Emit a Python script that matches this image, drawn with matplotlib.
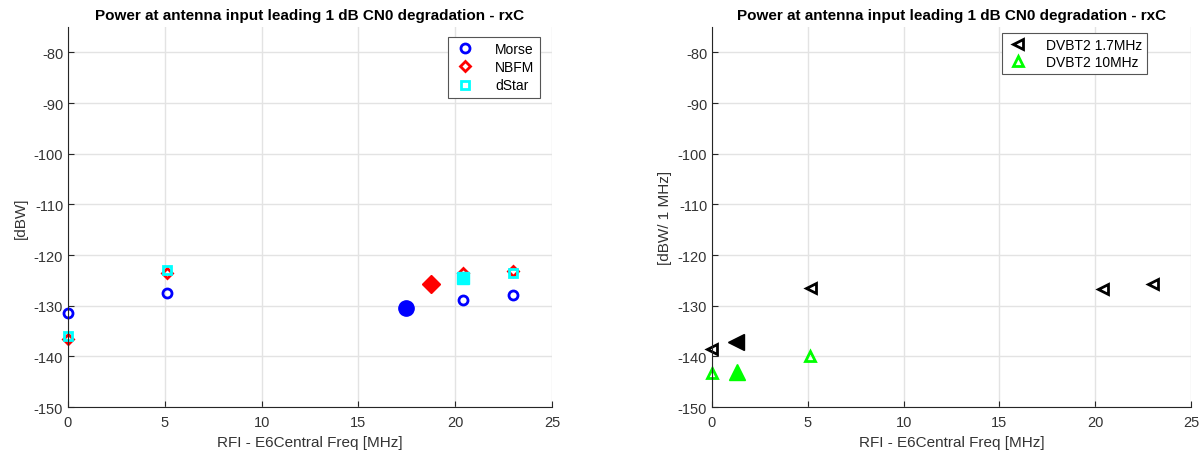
import matplotlib
matplotlib.use("Agg")
import matplotlib.pyplot as plt

plt.rcParams['font.family'] = ['Liberation Sans', 'DejaVu Sans']
plt.rcParams['axes.unicode_minus'] = False

# ---- data (left panel) ----
freq_narrow = [0.0, 5.1, 20.4, 23.0]
morse_dbw = [-131.5, -127.5, -128.9, -127.9]
nbfm_dbw = [-136.5, -123.6, -123.6, -123.2]
dstar_dbw = [-136.0, -123.0, -124.4, -123.6]
center_freq_left = [17.45, 18.75, 20.4]
center_dbw_left = [-130.5, -125.8, -124.5]

# ---- data (right panel) ----
freq_dvbt17 = [0.0, 5.15, 20.4, 23.0]
dvbt17_dbw = [-138.5, -126.5, -126.7, -125.7]
freq_dvbt10 = [0.0, 5.1]
dvbt10_dbw = [-143.3, -139.9]
center_freq_right = [1.25, 1.3]
center_dbw_right = [-137.2, -143.0]

title = "Power at antenna input leading 1 dB CN0 degradation - rxC"
xlabel = "RFI - E6Central Freq [MHz]"
xticks = [0, 5, 10, 15, 20, 25]
yticks = [-150, -140, -130, -120, -110, -100, -90, -80]

AXC = '#262626'
GRID = '#e3e3e3'

fig = plt.figure(figsize=(12.04, 4.6), dpi=100)
axL = fig.add_axes([68/1204, 52/460, 484/1204, 380/460])
axR = fig.add_axes([712/1204, 52/460, 479/1204, 380/460])


def style(ax, ylabel):
    ax.set_xlim(0, 25)
    ax.set_ylim(-150, -75)
    ax.set_xticks(xticks)
    ax.set_yticks(yticks)
    ax.grid(True, color=GRID, linewidth=1.0)
    ax.set_axisbelow(True)
    for s in ['top', 'right']:
        ax.spines[s].set_visible(False)
    for s in ['left', 'bottom']:
        ax.spines[s].set_color(AXC)
        ax.spines[s].set_linewidth(0.8)
    ax.tick_params(direction='in', length=4, width=0.8, colors=AXC,
                   labelsize=10.5, labelcolor='#333333')
    ax.tick_params(axis='x', pad=6)
    ax.set_xlabel(xlabel, fontsize=11, color='#333333', labelpad=4)
    ax.set_ylabel(ylabel, fontsize=11, color='#333333', labelpad=4)
    ax.set_title(title, fontsize=11, fontweight='bold', pad=6)


style(axL, "[dBW]")
style(axR, "[dBW/ 1 MHz]")

open_kw = dict(linestyle='none', markerfacecolor='none', markersize=6.5,
               markeredgewidth=2.0, clip_on=False)

axL.plot(freq_narrow, morse_dbw, marker='o', markeredgecolor='#0000ff',
         label='Morse', **open_kw)
axL.plot(freq_narrow, nbfm_dbw, marker='D', markeredgecolor='#ff0000',
         label='NBFM', **dict(open_kw, markersize=5.5))
axL.plot(freq_narrow, dstar_dbw, marker='s', markeredgecolor='#00ffff',
         label='dStar', **dict(open_kw, markersize=5.5))

axL.plot(center_freq_left[0], center_dbw_left[0], marker='o', color='#0000ff',
         markersize=11, linestyle='none')
axL.plot(center_freq_left[1], center_dbw_left[1], marker='D', color='#ff0000',
         markersize=9, linestyle='none')
axL.plot(center_freq_left[2], center_dbw_left[2], marker='s', color='#00ffff',
         markersize=9, linestyle='none')

legL = axL.legend(loc='upper right', bbox_to_anchor=(0.975, 0.975),
                  fontsize=10, frameon=True, fancybox=False,
                  edgecolor='#555555', framealpha=1, borderpad=0.4,
                  handletextpad=1.4, handlelength=1.6, labelspacing=0.3,
                  borderaxespad=0, markerfirst=True)
legL.get_frame().set_linewidth(0.8)

axR.plot(freq_dvbt17, dvbt17_dbw, marker='<', markeredgecolor='black',
         label='DVBT2 1.7MHz', **dict(open_kw, markersize=7))
axR.plot(freq_dvbt10, dvbt10_dbw, marker='^', markeredgecolor='#00ff00',
         label='DVBT2 10MHz', **dict(open_kw, markersize=7))
axR.plot(center_freq_right[0], center_dbw_right[0], marker='<', color='black',
         markersize=11, linestyle='none')
axR.plot(center_freq_right[1], center_dbw_right[1], marker='^', color='#00ff00',
         markersize=11, linestyle='none')

legR = axR.legend(loc='upper right', bbox_to_anchor=(0.908, 0.985),
                  fontsize=10, frameon=True, fancybox=False,
                  edgecolor='#555555', framealpha=1, borderpad=0.35,
                  handletextpad=1.2, handlelength=1.6, labelspacing=0.25,
                  borderaxespad=0)
legR.get_frame().set_linewidth(0.8)

fig.savefig("out.png", dpi=100)
